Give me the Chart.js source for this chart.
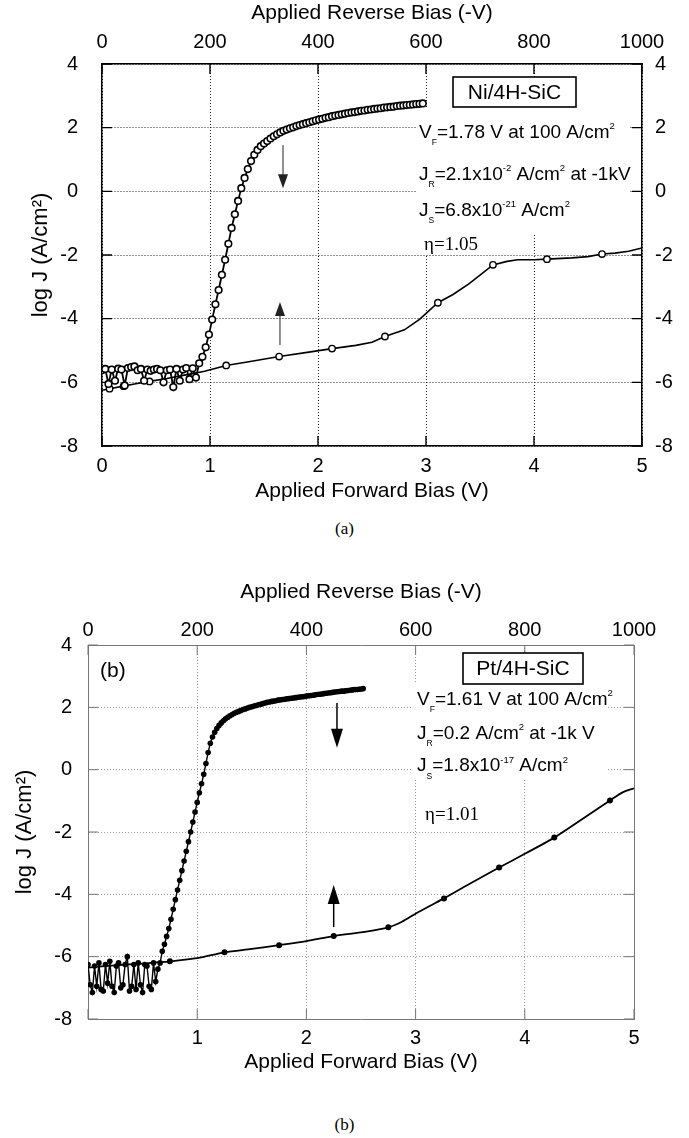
<!DOCTYPE html>
<html>
<head>
<meta charset="utf-8">
<script src="https://cdn.jsdelivr.net/npm/chart.js@4.4.1/dist/chart.umd.min.js"></script>
<style>
  html, body { margin: 0; padding: 0; background: #fff; }
  body { width: 689px; height: 1138px; position: relative; overflow: hidden; }
  .panel { position: absolute; left: 0; width: 689px; }
  #panel-a { top: 0; height: 510px; }
  #panel-b { top: 560px; height: 520px; }
  .caption { position: absolute; left: 0; width: 689px; text-align: center;
             font: 17px 'Liberation Serif', 'Times New Roman', serif; color: #000; }
</style>
</head>
<body>
<div class="panel" id="panel-a"><canvas id="chart-a" width="689" height="510"></canvas></div>
<div class="caption" style="top:519px">(a)</div>
<div class="panel" id="panel-b"><canvas id="chart-b" width="689" height="520"></canvas></div>
<div class="caption" style="top:1115px">(b)</div>

<script>
// ---- Ni/4H-SiC: forward sweep (V, log J) ----
const fwdA_V = [0.00,0.03,0.06,0.09,0.12,0.15,0.18,0.21,0.24,0.27,0.30,0.33,0.36,0.39,0.42,0.45,0.48,0.51,0.54,0.57,
  0.60,0.63,0.66,0.69,0.72,0.75,0.78,0.81,0.84,0.87,
  0.90,0.93,0.96,0.99,1.02,1.05,1.08,1.11,1.14,1.17,1.20,1.23,1.26,1.29,1.32,1.35,1.38,1.41,1.44,1.47,
  1.50,1.53,1.56,1.59,1.62,1.65,1.68,1.71,1.74,1.77,1.80,1.83,1.86,1.89,1.92,1.95,1.98,2.01,2.04,2.07,
  2.10,2.13,2.16,2.19,2.22,2.25,2.28,2.31,2.34,2.37,2.40,2.43,2.46,2.49,2.52,2.55,2.58,2.61,2.64,2.67,
  2.70,2.73,2.76,2.79,2.82,2.85,2.88,2.91,2.94,2.97]
const fwdA_J = [-5.62,-5.58,-6.05,-5.60,-5.95,-5.57,-5.60,-6.10,-5.55,-5.52,-5.50,-5.62,-5.58,-5.95,-5.60,-5.64,-5.60,-5.58,-5.62,-6.00,
  -5.62,-5.60,-6.15,-5.58,-5.95,-5.60,-5.55,-5.90,-5.56,-5.85,
  -5.40,-5.20,-4.90,-4.50,-4.03,-3.55,-3.10,-2.62,-2.15,-1.65,-1.15,-0.72,-0.30,0.10,0.42,0.70,0.95,1.15,1.30,1.42,
  1.50,1.58,1.66,1.73,1.79,1.85,1.90,1.94,1.98,2.01,2.05,2.08,2.11,2.14,2.17,2.20,2.23,2.26,2.28,2.31,
  2.33,2.36,2.38,2.40,2.42,2.44,2.46,2.48,2.49,2.51,2.53,2.54,2.56,2.57,2.59,2.60,2.61,2.63,2.64,2.65,
  2.66,2.68,2.69,2.70,2.71,2.72,2.73,2.74,2.75,2.76]

// ---- Ni/4H-SiC: reverse sweep (-V, log J) ----
const revA_V = [0,14,40,60,88,120,160,190,230,280,328,380,426,470,500,524,560,588,622,650,
  680,700,724,750,770,800,824,870,900,926,950,975,1000]
const revA_J = [-6.25,-6.20,-6.12,-6.05,-5.97,-5.88,-5.75,-5.65,-5.47,-5.33,-5.19,-5.06,-4.94,-4.84,-4.74,-4.56,-4.35,-4.02,-3.50,-3.24,
  -2.90,-2.63,-2.31,-2.20,-2.15,-2.15,-2.13,-2.09,-2.05,-1.97,-1.94,-1.88,-1.78]
const revA_marks = [14,40,88,230,328,426,524,622,724,824,926]

// ---- Pt/4H-SiC: forward sweep ----
const fwdB_V = [0.00,0.02,0.04,0.06,0.08,0.10,0.12,0.14,0.16,0.18,0.20,0.22,0.24,0.26,0.28,0.30,0.32,0.34,0.36,0.38,
  0.40,0.42,0.44,0.46,0.48,0.50,0.52,0.54,0.56,0.58,0.60,0.62,0.64,
  0.66,0.68,0.70,0.72,0.74,0.76,0.78,0.80,0.82,0.84,0.86,0.88,0.90,0.92,0.94,0.96,0.98,1.00,1.02,1.04,1.06,1.08,1.10,
  1.12,1.14,1.16,1.18,1.20,1.22,1.24,1.26,1.28,1.30,1.32,1.34,1.36,1.38,1.40,1.42,1.44,1.46,1.48,1.50,
  1.52,1.54,1.56,1.58,1.60,1.62,1.64,1.66,1.68,1.70,1.72,1.74,1.76,1.78,1.80,1.82,1.84,1.86,1.88,1.90,
  1.92,1.94,1.96,1.98,2.00,2.02,2.04,2.06,2.08,2.10,2.12,2.14,2.16,2.18,2.20,2.22,2.24,2.26,2.28,2.30,
  2.32,2.34,2.36,2.38,2.40,2.42,2.44,2.46,2.48,2.50,2.52]
const fwdB_J = [-6.25,-6.90,-7.15,-6.30,-6.95,-6.20,-7.05,-7.10,-6.25,-6.85,-6.15,-6.95,-7.15,-6.30,-6.20,-7.00,-6.90,-6.25,-6.00,-7.10,
  -6.95,-6.25,-7.05,-6.20,-6.90,-7.15,-6.25,-6.30,-6.95,-7.05,-6.20,-6.80,-6.40,
  -6.20,-5.83,-5.60,-5.35,-5.10,-4.80,-4.48,-4.17,-3.86,-3.55,-3.24,-2.93,-2.62,-2.31,-2.00,-1.68,-1.36,-1.05,-0.74,-0.45,-0.15,0.20,0.55,
  0.85,1.05,1.20,1.32,1.42,1.50,1.57,1.63,1.68,1.73,1.77,1.81,1.84,1.87,1.90,1.93,1.95,1.98,2.00,2.02,
  2.04,2.06,2.08,2.10,2.12,2.14,2.16,2.17,2.19,2.20,2.21,2.23,2.24,2.25,2.26,2.27,2.28,2.29,2.30,2.31,
  2.32,2.33,2.34,2.35,2.36,2.37,2.38,2.39,2.40,2.41,2.42,2.43,2.44,2.45,2.46,2.47,2.48,2.49,2.50,2.51,
  2.52,2.52,2.53,2.54,2.55,2.56,2.57,2.57,2.58,2.59,2.60]

// ---- Pt/4H-SiC: reverse sweep ----
const revB_V = [0,50,100,150,200,250,300,350,400,450,500,550,575,600,625,652,700,753,800,854,900,956,980,1000]
const revB_J = [-6.35,-6.28,-6.22,-6.15,-6.05,-5.86,-5.75,-5.63,-5.50,-5.34,-5.22,-5.06,-4.88,-4.62,-4.38,-4.13,-3.65,-3.14,-2.70,-2.18,-1.65,-0.99,-0.72,-0.60]
const revB_marks = [150,250,350,450,550,652,753,854,956]

// Axis ticks
const fwdTicks = [0, 1, 2, 3, 4, 5]
const revTicks = [0, 200, 400, 600, 800, 1000]
const logTicks = [-8, -6, -4, -2, 0, 2, 4]

const SANS = "'Liberation Sans', Arial, Helvetica, sans-serif"
const SERIF = "'Liberation Serif', 'Times New Roman', serif"

Chart.defaults.font.family = SANS
Chart.defaults.color = '#000'
Chart.defaults.animation = false

function pairs(xs, ys) {
  return xs.map((x, i) => ({ x, y: ys[i] }))
}

function fixed(prop, px) {
  return scale => { scale[prop] = px }
}

function useTicks(list) {
  return scale => { scale.ticks = list.map(v => ({ value: v })) }
}

// short solid tick marks pointing into the plot frame
function frameTicks(color, width, len) {
  return {
    id: 'frameTicks',
    beforeDatasetsDraw(chart) {
      const { ctx, chartArea: a, scales } = chart
      ctx.save()
      ctx.strokeStyle = color
      ctx.lineWidth = width
      ctx.beginPath()
      scales.x.ticks.forEach(t => {
        const p = scales.x.getPixelForValue(t.value)
        ctx.moveTo(p, a.bottom); ctx.lineTo(p, a.bottom - len)
      })
      scales.x2.ticks.forEach(t => {
        const p = scales.x2.getPixelForValue(t.value)
        ctx.moveTo(p, a.top); ctx.lineTo(p, a.top + len)
      })
      scales.y.ticks.forEach(t => {
        const p = scales.y.getPixelForValue(t.value)
        ctx.moveTo(a.left, p); ctx.lineTo(a.left + len, p)
        ctx.moveTo(a.right, p); ctx.lineTo(a.right - len, p)
      })
      ctx.stroke()
      ctx.restore()
    }
  }
}

// text with sub/superscripts, vertically centred on y
function drawRich(ctx, x, y, segs, size, family) {
  ctx.textBaseline = 'middle'
  ctx.textAlign = 'left'
  ctx.fillStyle = '#000'
  segs.forEach(s => {
    let fs = size, dy = 0
    if (s.sub) { fs = size * 0.45; dy = size * 0.55 }
    if (s.sup) { fs = size * 0.5; dy = -size * 0.32 }
    ctx.font = `${fs}px ${family}`
    ctx.fillText(s.t, x, y + dy)
    x += ctx.measureText(s.t).width
  })
}

function drawArrow(ctx, x, y0, y1, o) {
  const dir = y1 > y0 ? 1 : -1
  ctx.save()
  ctx.strokeStyle = o.color
  ctx.fillStyle = o.color
  ctx.lineWidth = o.shaft
  ctx.beginPath()
  ctx.moveTo(x, y0)
  ctx.lineTo(x, y1 - dir * o.head * 0.8)
  ctx.stroke()
  ctx.beginPath()
  ctx.moveTo(x, y1)
  ctx.lineTo(x - o.half, y1 - dir * o.head)
  ctx.lineTo(x + o.half, y1 - dir * o.head)
  ctx.closePath()
  ctx.fill()
  ctx.restore()
}

// sample label, parameter lines and sweep arrows
function notes(cfg) {
  return {
    id: 'notes',
    beforeDatasetsDraw(chart) {
      const { ctx, chartArea: a } = chart
      ctx.save()
      ctx.fillStyle = '#fff'
      ctx.fillRect(a.left + cfg.blank[0], a.top + cfg.blank[1], cfg.blank[2], cfg.blank[3])
      const b = cfg.box
      ctx.fillRect(a.left + b.x, a.top + b.y, b.w, b.h)
      ctx.strokeStyle = '#000'
      ctx.lineWidth = 1.6
      ctx.strokeRect(a.left + b.x, a.top + b.y, b.w, b.h)
      ctx.fillStyle = '#000'
      ctx.font = `21px ${SANS}`
      ctx.textAlign = 'center'
      ctx.textBaseline = 'middle'
      ctx.fillText(b.text, a.left + b.x + b.w / 2, a.top + b.y + b.h / 2 + 1)
      cfg.lines.forEach(l => drawRich(ctx, a.left + l.x, a.top + l.y, l.segs, 19, SANS))
      const e = cfg.eta
      ctx.font = `19px ${SERIF}`
      const w = ctx.measureText(e.text).width
      ctx.fillStyle = '#fff'
      ctx.fillRect(a.left + e.x - 2, a.top + e.y - 10, w + 4, 20)
      drawRich(ctx, a.left + e.x, a.top + e.y, [{ t: e.text }], 19, SERIF)
      if (cfg.tag) {
        ctx.font = `21px ${SANS}`
        ctx.textAlign = 'left'
        ctx.fillText(cfg.tag.text, a.left + cfg.tag.x, a.top + cfg.tag.y)
      }
      ctx.restore()
    },
    afterDatasetsDraw(chart) {
      const { ctx, scales } = chart
      cfg.arrows.forEach(ar => {
        drawArrow(ctx, scales.x.getPixelForValue(ar.x),
          scales.y.getPixelForValue(ar.from), scales.y.getPixelForValue(ar.to), cfg.arrowStyle)
      })
    }
  }
}

function axes(o) {
  const dash = { color: o.frame, width: o.frameWidth, dash: o.dash }
  return {
    x: {
      type: 'linear', position: 'bottom', min: 0, max: 5,
      afterFit: fixed('height', o.bottom), afterBuildTicks: useTicks(fwdTicks),
      ticks: { autoSkip: false, maxRotation: 0, padding: o.bottomPad, font: { size: 20 },
               callback: v => (o.hideZero && v === 0 ? '' : String(v)) },
      grid: { color: o.grid, lineWidth: 1, drawTicks: false },
      border: dash,
      title: { display: true, text: 'Applied Forward Bias (V)', font: { size: 21 },
               padding: { top: 0, bottom: o.bottomTitlePad } }
    },
    x2: {
      type: 'linear', position: 'top', min: 0, max: 1000,
      afterFit: fixed('height', o.top), afterBuildTicks: useTicks(revTicks),
      ticks: { autoSkip: false, maxRotation: 0, padding: o.topPad, font: { size: 20 },
               callback: v => String(v) },
      grid: { display: false, drawTicks: false },
      border: { color: o.frame, width: o.frameWidth },
      title: { display: true, text: 'Applied Reverse Bias (-V)', font: { size: 21 },
               padding: { top: o.topTitlePad, bottom: 0 } }
    },
    y: {
      type: 'linear', position: 'left', min: -8, max: 4,
      afterFit: fixed('width', o.left), afterBuildTicks: useTicks(logTicks),
      ticks: { padding: o.leftPad, font: { size: 20 } },
      grid: { color: o.grid, lineWidth: 1, drawTicks: false },
      border: dash,
      title: { display: true, text: 'log J (A/cm²)', font: { size: 22 },
               padding: { top: o.leftTitlePad, bottom: 0 } }
    },
    y2: {
      type: 'linear', position: 'right', min: -8, max: 4,
      afterFit: fixed('width', o.right), afterBuildTicks: useTicks(logTicks),
      ticks: { display: o.rightLabels, padding: o.rightPad, font: { size: 20 } },
      grid: { display: false, drawTicks: false },
      border: { color: o.frame, width: o.frameWidth }
    }
  }
}

function markerRadius(volts, marks, r) {
  return c => (marks.includes(volts[c.dataIndex]) ? r : 0)
}

// ---- (a) Ni/4H-SiC ----
new Chart(document.getElementById('chart-a'), {
  type: 'scatter',
  data: {
    datasets: [
      {
        label: 'forward', data: pairs(fwdA_V, fwdA_J), xAxisID: 'x', yAxisID: 'y',
        showLine: true, borderColor: '#000', borderWidth: 1.8,
        pointRadius: 3.3, pointBorderWidth: 1.6, pointBorderColor: '#000', pointBackgroundColor: '#fff'
      },
      {
        label: 'reverse', data: pairs(revA_V, revA_J), xAxisID: 'x2', yAxisID: 'y',
        showLine: true, borderColor: '#000', borderWidth: 1.6,
        pointRadius: markerRadius(revA_V, revA_marks, 3.2), pointBorderWidth: 1.4,
        pointBorderColor: '#000', pointBackgroundColor: '#fff'
      }
    ]
  },
  options: {
    responsive: false,
    layout: { padding: 0 },
    plugins: { legend: { display: false }, tooltip: { enabled: false } },
    scales: axes({
      frame: '#000', frameWidth: 1.5, grid: '#222', dash: [1, 2],
      left: 102, right: 47, top: 64, bottom: 64,
      leftPad: 24, rightPad: 13, topPad: 10, bottomPad: 8,
      topTitlePad: 1, bottomTitlePad: 6, leftTitlePad: 28,
      rightLabels: true, hideZero: false
    })
  },
  plugins: [
    frameTicks('#000', 1.4, 10),
    notes({
      blank: [314, 43, 214, 127],
      box: { x: 351, y: 13, w: 123, h: 30, text: 'Ni/4H-SiC' },
      lines: [
        { x: 317, y: 68.5, segs: [{ t: 'V' }, { t: 'F', sub: true }, { t: '=1.78 V at 100 A/cm' }, { t: '2', sup: true }] },
        { x: 317, y: 110.5, segs: [{ t: 'J' }, { t: 'R', sub: true }, { t: '=2.1x10' }, { t: '-2', sup: true },
                                   { t: ' A/cm' }, { t: '2', sup: true }, { t: ' at -1kV' }] },
        { x: 317, y: 146.5, segs: [{ t: 'J' }, { t: 'S', sub: true }, { t: '=6.8x10' }, { t: '-21', sup: true },
                                   { t: ' A/cm' }, { t: '2', sup: true }] }
      ],
      eta: { x: 322, y: 181, text: 'η=1.05' },
      arrows: [{ x: 1.676, from: 1.45, to: 0.10 }, { x: 1.648, from: -4.83, to: -3.48 }],
      arrowStyle: { color: '#222', shaft: 1, head: 14, half: 5 }
    })
  ]
})

// ---- (b) Pt/4H-SiC ----
new Chart(document.getElementById('chart-b'), {
  type: 'scatter',
  data: {
    datasets: [
      {
        label: 'forward', data: pairs(fwdB_V, fwdB_J), xAxisID: 'x', yAxisID: 'y',
        showLine: true, borderColor: '#000', borderWidth: 1.4,
        pointRadius: 2.8, pointBorderWidth: 0, pointBackgroundColor: '#000'
      },
      {
        label: 'reverse', data: pairs(revB_V, revB_J), xAxisID: 'x2', yAxisID: 'y',
        showLine: true, borderColor: '#000', borderWidth: 1.8, tension: 0.3,
        pointRadius: markerRadius(revB_V, revB_marks, 3), pointBorderWidth: 0, pointBackgroundColor: '#000'
      }
    ]
  },
  options: {
    responsive: false,
    layout: { padding: 0 },
    plugins: { legend: { display: false }, tooltip: { enabled: false } },
    scales: axes({
      frame: '#777', frameWidth: 1, grid: '#999', dash: [1, 2],
      left: 88, right: 55, top: 85, bottom: 61,
      leftPad: 16, rightPad: 13, topPad: 3, bottomPad: 7,
      topTitlePad: 20, bottomTitlePad: 5, leftTitlePad: 12,
      rightLabels: false, hideZero: true
    })
  },
  plugins: [
    frameTicks('#777', 1, 10),
    notes({
      blank: [324, 39, 196, 96],
      box: { x: 375, y: 8, w: 120, h: 31, text: 'Pt/4H-SiC' },
      lines: [
        { x: 329, y: 54.5, segs: [{ t: 'V' }, { t: 'F', sub: true }, { t: '=1.61 V at 100 A/cm' }, { t: '2', sup: true }] },
        { x: 329, y: 88.5, segs: [{ t: 'J' }, { t: 'R', sub: true }, { t: '=0.2 A/cm' }, { t: '2', sup: true },
                                  { t: ' at -1k V' }] },
        { x: 329, y: 121, segs: [{ t: 'J' }, { t: 'S', sub: true }, { t: '=1.8x10' }, { t: '-17', sup: true },
                                 { t: ' A/cm' }, { t: '2', sup: true }] }
      ],
      eta: { x: 337, y: 170, text: 'η=1.01' },
      tag: { x: 12, y: 26, text: '(b)' },
      arrows: [{ x: 2.28, from: 2.14, to: 0.70 }, { x: 2.25, from: -5.05, to: -3.70 }],
      arrowStyle: { color: '#000', shaft: 1.5, head: 19, half: 6 }
    })
  ]
})
</script>
</body>
</html>
